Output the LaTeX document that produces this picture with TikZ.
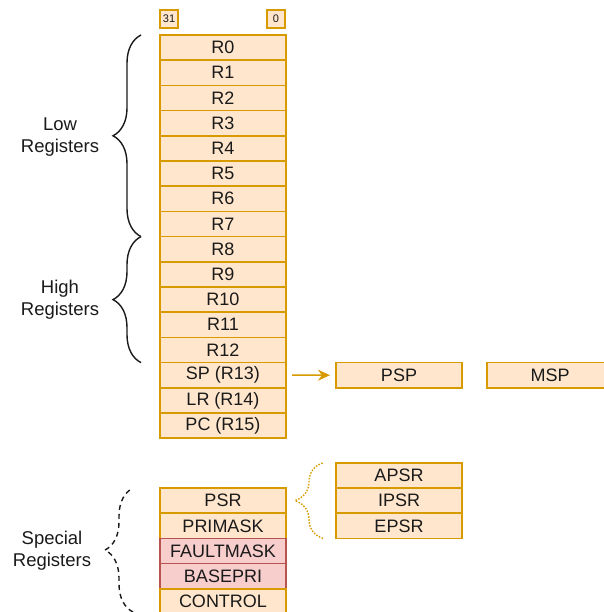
\documentclass[tikz,border=0pt]{standalone}
\usepackage{fontspec}
\setmainfont{Liberation Sans}
\usepackage{xcolor}
\usepackage{tikz}
\usetikzlibrary{arrows.meta,calc,positioning,decorations.pathreplacing}
\definecolor{ink}{HTML}{1A1A1A}
\definecolor{orangeline}{HTML}{D79B00}
\definecolor{orangefill}{HTML}{FFE6CC}
\definecolor{redline}{HTML}{B85450}
\definecolor{redfill}{HTML}{F8CECC}
\tikzset{reg/.style={draw=orangeline,fill=orangefill,line width=1.5pt,minimum width=126pt,minimum height=25.2pt,inner sep=0pt,outer sep=0pt,text=ink,font=\fontsize{18}{21}\selectfont},
regred/.style={reg,draw=redline,fill=redfill},
bitno/.style={draw=orangeline,fill=orangefill,line width=1.5pt,minimum width=18pt,minimum height=18pt,inner sep=0pt,text=ink,font=\fontsize{11}{12}\selectfont},
grouplabel/.style={align=center,text=ink,font=\fontsize{18.5}{22}\selectfont},
bracebig/.style={decorate,decoration={brace,amplitude=28pt},line width=1.4pt},
flow/.style={-{Stealth[length=12pt,width=11pt]},draw=orangeline,line width=1.5pt}}
\begin{document}
\begin{tikzpicture}[x=1pt,y=-1pt,node distance=0pt]
\useasboundingbox (0,0) rectangle (603,612);
\node[bitno] (b31) at (169,19) {31};
\node[bitno] (b0) at (276,19) {0};
\node[reg] (r0) at (223,47.6) {R0};
\node[reg,below=of r0] (r1) {R1};
\node[reg,below=of r1] (r2) {R2};
\node[reg,below=of r2] (r3) {R3};
\node[reg,below=of r3] (r4) {R4};
\node[reg,below=of r4] (r5) {R5};
\node[reg,below=of r5] (r6) {R6};
\node[reg,below=of r6] (r7) {R7};
\node[reg,below=of r7] (r8) {R8};
\node[reg,below=of r8] (r9) {R9};
\node[reg,below=of r9] (r10) {R10};
\node[reg,below=of r10] (r11) {R11};
\node[reg,below=of r11] (r12) {R12};
\node[reg,below=of r12] (sp) {SP (R13)};
\node[reg,below=of sp] (lr) {LR (R14)};
\node[reg,below=of lr] (pc) {PC (R15)};
\node[reg] (psp) at (399,375.2) {PSP};
\node[reg] (msp) at (550,375.2) {MSP};
\draw[flow] ([xshift=6pt]sp.east)--([xshift=-6pt]psp.west);
% special registers
\node[reg] (psr) at (223,500.6) {PSR};
\node[reg,below=of psr] (primask) {PRIMASK};
\node[regred,below=of primask] (faultmask) {FAULTMASK};
\node[regred,below=of faultmask] (basepri) {BASEPRI};
\node[reg,below=of basepri] (control) {CONTROL};
\node[reg] (apsr) at (399,475.4) {APSR};
\node[reg,below=of apsr] (ipsr) {IPSR};
\node[reg,below=of ipsr] (epsr) {EPSR};
% braces
\draw[bracebig,draw=ink] ([xshift=-19pt]r7.south west)--([xshift=-19pt]r0.north west);
\draw[bracebig,draw=ink] ([xshift=-19pt]r12.south west)--([xshift=-19pt]r8.north west);
\draw[bracebig,draw=ink,dash pattern=on 5pt off 4pt] ([xshift=-27pt]psr.north west |- 0,612)--([xshift=-27pt]psr.north west);
\draw[bracebig,draw=orangeline,dash pattern=on 1.5pt off 1.5pt] ([xshift=-13pt]epsr.south west)--([xshift=-13pt]apsr.north west);
\node[grouplabel] (low) at (60,137) {Low\\Registers};
\node[grouplabel] (high) at (60,300) {High\\Registers};
\node[grouplabel] (special) at (52,551) {Special\\Registers};
\end{tikzpicture}
\end{document}
